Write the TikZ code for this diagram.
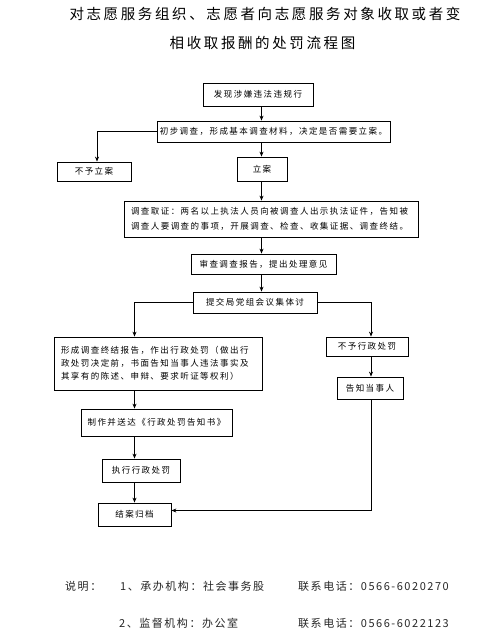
\documentclass[tikz,border=0pt]{standalone}
\usepackage{fontspec}
\usetikzlibrary{arrows.meta,calc}
\newfontfamily\titlefont[LetterSpace=18]{Noto Sans CJK SC}
\newfontfamily\boxfont[LetterSpace=17]{Noto Sans CJK SC}
\newfontfamily\notefont[LetterSpace=14]{Noto Sans CJK SC}
\begin{document}
\begin{tikzpicture}[x=1pt,y=-1pt,
  box/.style={draw=black,line width=0.8pt,inner sep=0pt,align=center,
    font=\boxfont\fontsize{8.5}{13}\selectfont},
  arr/.style={draw=black,line width=0.7pt,-{Stealth[length=5pt,width=4pt]}},
  ttl/.style={font=\titlefont\fontsize{14.5}{17}\selectfont,inner sep=0pt},
  note/.style={font=\notefont\fontsize{11}{13}\selectfont,inner sep=0pt,anchor=west,text=black!85}]
\useasboundingbox (0,0) rectangle (483,642);
% title
\node[ttl] (t1) at (265,14) {对志愿服务组织、志愿者向志愿服务对象收取或者变};
\node[ttl] (t2) at (262.5,43) {相收取报酬的处罚流程图};
% boxes
\node[box,minimum width=110pt,minimum height=23pt] (b1) at (258,94.5) {发现涉嫌违法违规行};
\node[box,minimum width=233pt,minimum height=21pt] (b2) at (273.5,131.5) {初步调查，形成基本调查材料，决定是否需要立案。};
\node[box,minimum width=74pt,minimum height=19pt] (b3) at (94,171.5) {不予立案};
\node[box,minimum width=50pt,minimum height=24pt] (b4) at (262,169) {立案};
\node[box,minimum width=294pt,minimum height=36pt,text width=280pt,align=left,
  font=\boxfont\fontsize{8.5}{15}\selectfont] (b5) at (271,219)
  {调查取证：两名以上执法人员向被调查人出示执法证件，告知被\\调查人要调查的事项，开展调查、检查、收集证据、调查终结。};
\node[box,minimum width=145pt,minimum height=20pt] (b6) at (263.5,264) {审查调查报告，提出处理意见};
\node[box,minimum width=124pt,minimum height=21pt] (b7) at (255,302.5) {提交局党组会议集体讨};
\node[box,minimum width=208pt,minimum height=53pt,text width=194pt,align=left] (b8) at (158,363.5)
  {形成调查终结报告，作出行政处罚（做出行\\政处罚决定前，书面告知当事人违法事实及\\其享有的陈述、申辩、要求听证等权利）};
\node[box,minimum width=82pt,minimum height=19pt] (b9) at (367,346.5) {不予行政处罚};
\node[box,minimum width=66pt,minimum height=22pt] (b10) at (370,388) {告知当事人};
\node[box,minimum width=151pt,minimum height=27pt] (b11) at (156.5,422.5) {制作并送达《行政处罚告知书》};
\node[box,minimum width=78pt,minimum height=23pt] (b12) at (141,470.5) {执行行政处罚};
\node[box,minimum width=73pt,minimum height=23pt] (b13) at (134.5,514.5) {结案归档};
% connector guides
\coordinate (cx) at (261.5,0);
\coordinate (cl) at (134.5,0);
\coordinate (cr) at (371,0);
\coordinate (cn) at (97,0);
% connectors
\draw[arr] (b1.south -| cx) -- (b2.north -| cx);
\draw[arr] (b2.west) -| (b3.north -| cn);
\draw[arr] (b2.south -| cx) -- (b4.north -| cx);
\draw[arr] (b4.south -| cx) -- (b5.north -| cx);
\draw[arr] (b5.south -| cx) -- (b6.north -| cx);
\draw[arr] (b6.south -| cx) -- (b7.north -| cx);
\draw[arr] (b7.west) -| (b8.north -| cl);
\draw[arr] (b7.east) -| (b9.north -| cr);
\draw[arr] (b9.south -| cr) -- (b10.north -| cr);
\draw[arr] (b8.south -| cl) -- (b11.north -| cl);
\draw[arr] (b11.south -| cl) -- (b12.north -| cl);
\draw[arr] (b12.south -| cl) -- (b13.north -| cl);
\draw[arr] (b10.south -| cr) |- ($(b13.east)+(0,-4)$);
% notes
\node[note] (n0) at (65,586) {说明：};
\node[note] (n1) at (120,586) {1、承办机构：社会事务股};
\node[note] (n2) at (298,586) {联系电话：0566-6020270};
\node[note] (n3) at (119,623) {2、监督机构：办公室};
\node[note] (n4) at (298,623) {联系电话：0566-6022123};
\end{tikzpicture}
\end{document}
